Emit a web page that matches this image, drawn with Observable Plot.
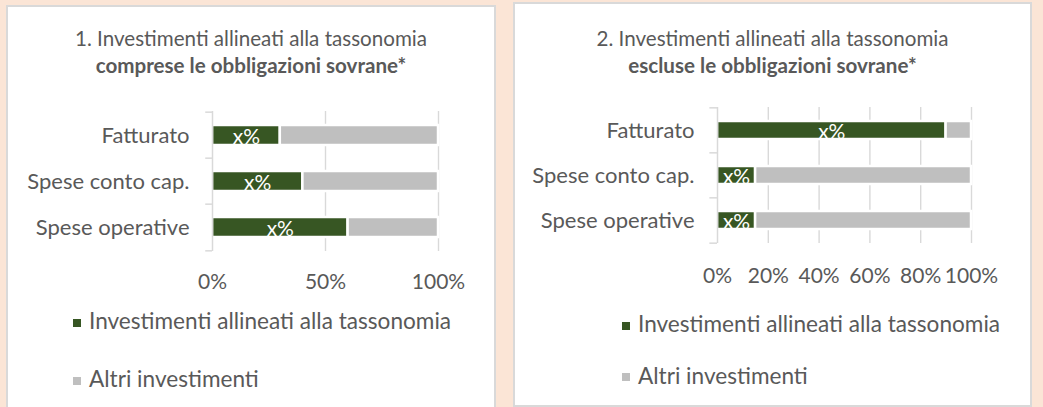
<!DOCTYPE html>
<html><head><meta charset="utf-8">
<script src="https://cdn.jsdelivr.net/npm/d3@7"></script>
<script src="https://cdn.jsdelivr.net/npm/@observablehq/plot@0.6"></script>
<style>
html,body{margin:0;padding:0;}
body{width:1043px;height:407px;background:#fbe5d6;position:relative;overflow:hidden;font-family:Lato,"Open Sans",sans-serif;color:#595959;}
.panel{position:absolute;background:#fff;border:2px solid #d9d9d9;box-sizing:border-box;}
.title{position:absolute;text-align:center;font-size:20.6px;line-height:27px;white-space:nowrap;}
.title b{font-weight:700;}
.chart{position:absolute;}
.leg{position:absolute;font-size:22.6px;line-height:24px;white-space:nowrap;}
.leg .sw{position:absolute;left:0;width:8px;height:8px;}
.leg .tx{position:absolute;left:16px;top:0;}
</style>
</head><body>
<div class="panel" style="left:6px;top:5px;width:490px;height:410px"></div>
<div class="panel" style="left:513px;top:2px;width:519px;height:405px"></div>
<div id="t1" class="title" style="left:6px;top:24.5px;width:490px"></div>
<div id="t2" class="title" style="left:513px;top:24.5px;width:519px"></div>
<div id="c1" class="chart" style="left:8px;top:97px"></div>
<div id="c2" class="chart" style="left:515px;top:93px"></div>
<div id="l1"></div>
<div id="l2"></div>
<script>
const categories = ["Fatturato", "Spese conto cap.", "Spese operative"];
const series = ["Investimenti allineati alla tassonomia", "Altri investimenti"];
const colors = ["#375623", "#bfbfbf"];
const alignedIncl = [30, 40, 60];
const otherIncl = [70, 60, 40];
const alignedExcl = [90, 15, 15];
const otherExcl = [10, 85, 85];
const barLabels = ["x%", "x%", "x%"];
const ticksIncl = [0, 50, 100];
const ticksExcl = [0, 20, 40, 60, 80, 100];
const titleLine1 = ["1. Investimenti allineati alla tassonomia", "2. Investimenti allineati alla tassonomia"];
const titleLine2 = ["comprese le obbligazioni sovrane*", "escluse le obbligazioni sovrane*"];

function chart(o) {
  const rows = categories.flatMap((c, i) => [
    {cat: c, series: series[0], value: o.aligned[i], label: barLabels[i]},
    {cat: c, series: series[1], value: o.other[i]}
  ]);
  const n = categories.length;
  const step = (o.height - o.marginTop - o.marginBottom) / (n - o.paddingInner + 2 * o.paddingOuter);
  return Plot.plot({
    width: o.width, height: o.height,
    marginLeft: o.marginLeft, marginRight: o.marginRight, marginTop: o.marginTop, marginBottom: o.marginBottom,
    style: {fontFamily: "Lato, 'Open Sans', sans-serif", color: "#595959", background: "transparent", overflow: "visible"},
    x: {domain: [0, 100]},
    y: {domain: categories, paddingInner: o.paddingInner, paddingOuter: o.paddingOuter},
    color: {domain: series, range: colors},
    marks: [
      Plot.ruleX(o.ticks.filter(t => t > 0), {stroke: "#d9d9d9", strokeWidth: 1.4}),
      Plot.barX(rows, {x: "value", y: "cat", fill: "series", stroke: "#fff", strokeWidth: 2.5}),
      Plot.text(rows.filter(d => d.series === series[0]), {x: d => d.value / 2, y: "cat", text: "label", fill: "#fff", fontSize: 21, dy: 1.5}),
      Plot.ruleX([0], {stroke: "#d9d9d9", strokeWidth: 1.5}),
      Plot.ruleY(categories, {y: d => d, x1: -3, x2: 0, dy: -step / 2, stroke: "#d9d9d9", strokeWidth: 1.5}),
      Plot.ruleY([categories[n - 1]], {y: d => d, x1: -3, x2: 0, dy: step / 2, stroke: "#d9d9d9", strokeWidth: 1.5}),
      Plot.axisX({ticks: o.ticks, tickFormat: d => d + "%", tickSize: 0, tickPadding: o.tickPadding, fontSize: 21, label: null}),
      Plot.axisY({tickSize: 0, tickPadding: 23, fontSize: 22, label: null})
    ]
  });
}

document.getElementById("c1").append(chart({
  aligned: alignedIncl, other: otherIncl, ticks: ticksIncl,
  width: 486, height: 200, marginLeft: 204, marginRight: 56, marginTop: 14, marginBottom: 46,
  paddingInner: 0.57, paddingOuter: 0.285, tickPadding: 23
}));
document.getElementById("c2").append(chart({
  aligned: alignedExcl, other: otherExcl, ticks: ticksExcl,
  width: 515, height: 200, marginLeft: 202, marginRight: 59, marginTop: 14, marginBottom: 50,
  paddingInner: 0.6, paddingOuter: 0.3, tickPadding: 25
}));

[["t1", 0], ["t2", 1]].forEach(([id, i]) => {
  const el = document.getElementById(id);
  el.innerHTML = "";
  const a = document.createElement("div"); a.textContent = titleLine1[i];
  const b = document.createElement("div"); const bb = document.createElement("b"); bb.textContent = titleLine2[i]; b.append(bb);
  el.append(a, b);
});

function legend(id, x, rowsPos) {
  const host = document.getElementById(id);
  series.forEach((s, i) => {
    const r = document.createElement("div");
    r.className = "leg";
    r.style.left = x + "px"; r.style.top = rowsPos[i][0] + "px";
    const sw = document.createElement("div"); sw.className = "sw"; sw.style.background = colors[i]; sw.style.top = rowsPos[i][1] + "px";
    const tx = document.createElement("div"); tx.className = "tx"; tx.textContent = s;
    r.append(sw, tx);
    host.append(r);
  });
}
legend("l1", 73, [[309, 10], [367, 9.5]]);
legend("l2", 622, [[312, 10], [364, 9]]);
</script>
</body></html>
